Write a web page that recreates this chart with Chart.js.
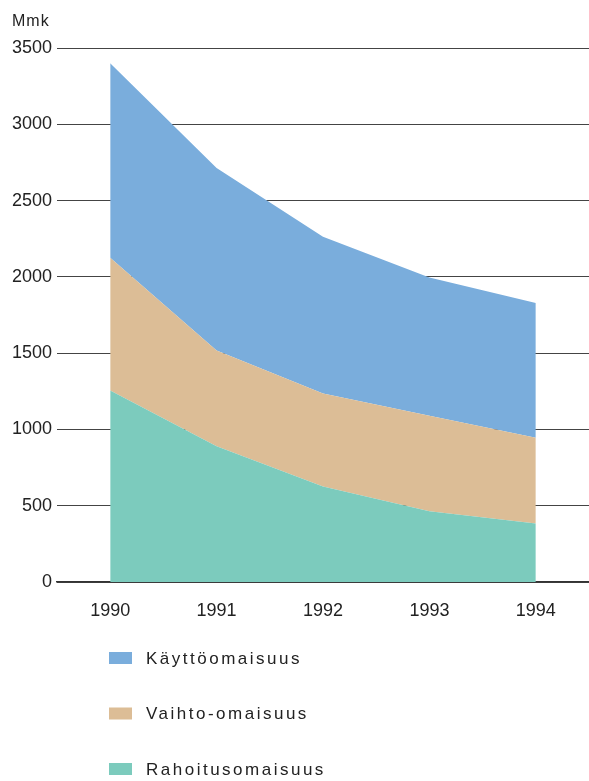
<!DOCTYPE html>
<html>
<head>
<meta charset="utf-8">
<script src="https://cdn.jsdelivr.net/npm/chart.js@4"></script>
<style>
  body { margin: 0; background: #fff; }
</style>
</head>
<body>
<canvas id="chart" width="589" height="781"></canvas>
<script>
const years = ["1990", "1991", "1992", "1993", "1994"];
const rahoitus = [1255, 890, 626, 464, 383];
const vaihto = [871, 628, 609, 626, 562];
const kaytto = [1274, 1195, 1028, 905, 884];
const yTicks = [0, 500, 1000, 1500, 2000, 2500, 3000, 3500];
const unitLabel = "Mmk";

const colors = {
  kaytto: "#7aaddc",
  vaihto: "#dcbd96",
  rahoitus: "#7ccbbd",
};

// legend drawn top to bottom in this order
const legendItems = [
  { label: "Käyttöomaisuus", color: colors.kaytto },
  { label: "Vaihto-omaisuus", color: colors.vaihto },
  { label: "Rahoitusomaisuus", color: colors.rahoitus },
];

const FONT = "'Liberation Sans', Arial, sans-serif";

const extras = {
  id: "extras",
  afterDraw(chart) {
    const ctx = chart.ctx;
    ctx.save();
    ctx.fillStyle = "#222";
    ctx.font = "16px " + FONT;
    ctx.textBaseline = "alphabetic";
    ctx.letterSpacing = "1px";
    ctx.fillText(unitLabel, 12, 26);

    ctx.font = "17px " + FONT;
    ctx.textBaseline = "middle";
    ctx.letterSpacing = "2.5px";
    legendItems.forEach((item, i) => {
      const cy = 658 + i * 55.5;
      ctx.fillStyle = item.color;
      ctx.fillRect(109, cy - 6, 23, 12);
      ctx.fillStyle = "#222";
      ctx.fillText(item.label, 146, cy + 1);
    });
    ctx.restore();
  },
};

new Chart(document.getElementById("chart"), {
  type: "line",
  data: {
    labels: years,
    datasets: [
      { label: "Rahoitusomaisuus", data: rahoitus, backgroundColor: colors.rahoitus, fill: "origin" },
      { label: "Vaihto-omaisuus", data: vaihto, backgroundColor: colors.vaihto, fill: "-1" },
      { label: "Käyttöomaisuus", data: kaytto, backgroundColor: colors.kaytto, fill: "-1" },
    ].map((d) => ({ ...d, borderWidth: 0, pointRadius: 0, tension: 0 })),
  },
  options: {
    responsive: false,
    animation: false,
    layout: { padding: { top: 48, left: 0, right: 0, bottom: 140 } },
    plugins: { legend: { display: false }, tooltip: { enabled: false } },
    scales: {
      x: {
        offset: true,
        grid: { display: false },
        border: { color: "#333", width: 1.5 },
        ticks: { font: { family: FONT, size: 18 }, color: "#222", padding: 10 },
        afterFit: (s) => { s.height = 59; },
      },
      y: {
        stacked: true,
        min: 0,
        max: 3500,
        afterBuildTicks: (s) => { s.ticks = yTicks.map((v) => ({ value: v })); },
        grid: { color: "#444", lineWidth: 1, drawTicks: false },
        border: { display: false },
        ticks: {
          font: { family: FONT, size: 18 },
          color: "#222",
          padding: 5,
          callback: (v) => String(v),
        },
        afterFit: (s) => { s.width = 57; },
      },
    },
  },
  plugins: [extras],
});
</script>
</body>
</html>
